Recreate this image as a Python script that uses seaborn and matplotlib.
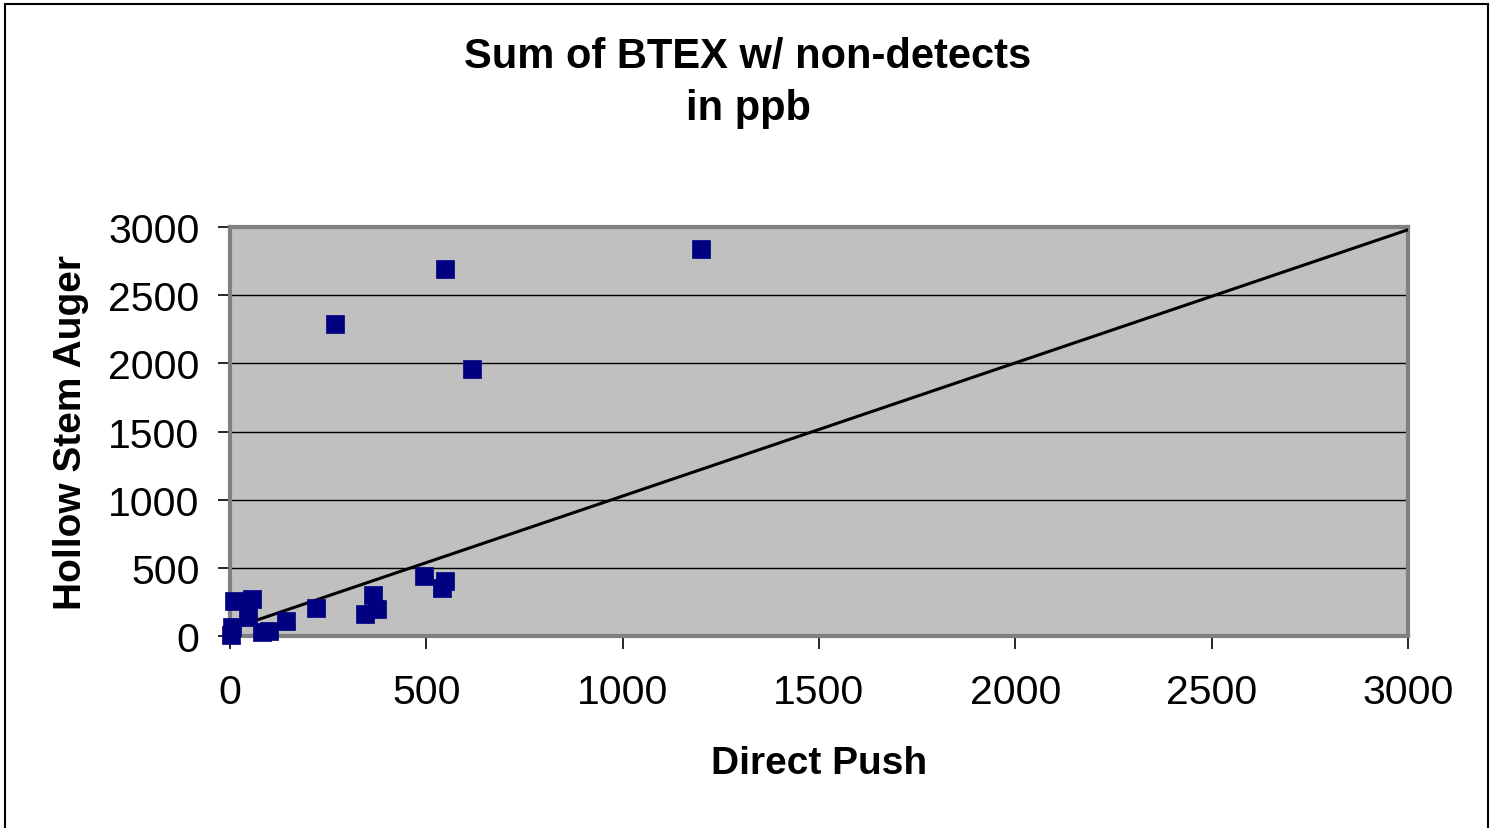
import matplotlib
matplotlib.use("Agg")
import matplotlib.pyplot as plt
import seaborn as sns
import pandas as pd
from matplotlib.patches import Rectangle

direct_push = [10, 55, 47, 4, 3, 81, 99, 142, 219, 344, 365, 375, 495, 547, 541,
               267, 547, 616, 1199]
hollow_stem = [257, 271, 137, 64, 10, 27, 40, 113, 205, 161, 303, 198, 442, 403, 350,
               2289, 2692, 1959, 2839]
trend_x = [0, 3000]
trend_y = [50, 2980]
ticks = [0, 500, 1000, 1500, 2000, 2500, 3000]

sns.set_theme(style="white")
plt.rcParams['font.family'] = ['Liberation Sans', 'DejaVu Sans']
plt.rcParams['text.color'] = 'black'

fig = plt.figure(figsize=(14.9, 8.29), dpi=100)
ax = fig.add_axes([230/1490, 1-637/829, (1408-230)/1490, (637-228)/829])
ax.set_facecolor('#C0C0C0')

df = pd.DataFrame({'x': direct_push, 'y': hollow_stem})
tl = pd.DataFrame({'x': trend_x, 'y': trend_y})
sns.lineplot(data=tl, x='x', y='y', ax=ax, color='black', linewidth=2.2, zorder=3)
sns.scatterplot(data=df, x='x', y='y', ax=ax, marker='s', s=150, color='#000080',
                edgecolor='#000080', linewidth=0.5, zorder=4, clip_on=False)

ax.set_xlim(0, 3000)
ax.set_ylim(0, 3000)
ax.set_xticks(ticks)
ax.set_yticks(ticks)
ax.yaxis.grid(True, color='black', linewidth=1)
ax.xaxis.grid(False)
ax.set_axisbelow(True)
ax.tick_params(axis='both', which='major', labelsize=29.5, length=9, width=1.2,
               color='black', direction='out', bottom=True, left=True)
ax.tick_params(axis='x', pad=18)
ax.tick_params(axis='y', pad=13)
for lab in ax.get_xticklabels() + ax.get_yticklabels():
    lab.set_color('black')
for s in ax.spines.values():
    s.set_color('#808080')
    s.set_linewidth(3)

ax.set_xlabel('Direct Push', fontsize=28, fontweight='bold', labelpad=24, color='black')
ax.set_ylabel('Hollow Stem Auger', fontsize=28, fontweight='bold', labelpad=14, color='black')
fig.text(0.502, 1-83/829, 'Sum of BTEX w/ non-detects\nin ppb', ha='center', va='center',
         fontsize=30, fontweight='bold', linespacing=1.4, color='black')

fig.patches.append(Rectangle((5/1490, -0.1), 1483/1490, 1.1 - 5/829, transform=fig.transFigure,
                             fill=False, edgecolor='black', linewidth=1.5))

fig.savefig('out.png', dpi=100, facecolor='white')
